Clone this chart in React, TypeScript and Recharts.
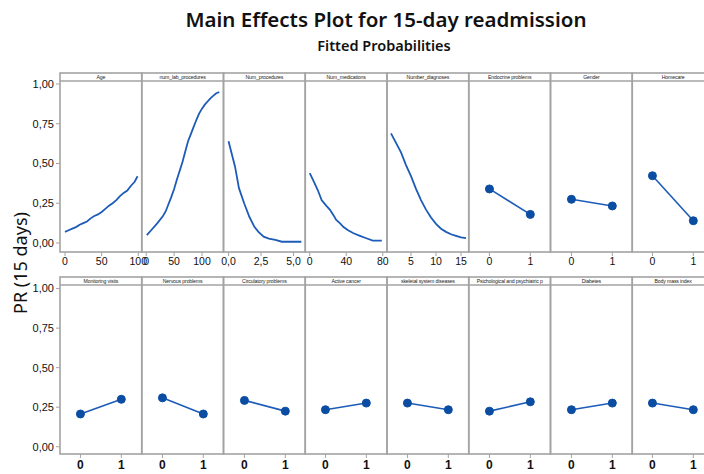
import React from "react";
import { LineChart, Line, XAxis, YAxis } from "recharts";

// continuous predictors
const ageX = [0, 5, 10, 15, 20, 25, 30, 35, 40, 45, 50, 55, 60, 65, 70, 75, 80, 85, 90, 95, 99];
const ageY = [0.07, 0.08, 0.09, 0.1, 0.115, 0.125, 0.135, 0.155, 0.17, 0.18, 0.195, 0.215, 0.235, 0.25, 0.27, 0.295, 0.315, 0.33, 0.36, 0.385, 0.42];

const labX = [1, 10, 20, 30, 35, 40, 45, 50, 55, 60, 65, 70, 75, 80, 85, 90, 95, 100, 105, 110, 115, 120, 125, 131];
const labY = [0.05, 0.085, 0.125, 0.17, 0.2, 0.245, 0.29, 0.34, 0.4, 0.455, 0.51, 0.575, 0.64, 0.685, 0.73, 0.775, 0.815, 0.845, 0.87, 0.89, 0.91, 0.925, 0.94, 0.95];

const procX = [0, 0.5, 0.8, 1.2, 1.6, 2, 2.3, 2.7, 3.1, 3.6, 4.1, 4.6, 5.1, 5.6];
const procY = [0.64, 0.48, 0.345, 0.25, 0.165, 0.1, 0.07, 0.04, 0.028, 0.019, 0.008, 0.008, 0.008, 0.008];

const medX = [0, 5, 9, 13, 18, 22, 26, 29, 33, 37, 42, 48, 55, 62, 69, 74, 79];
const medY = [0.44, 0.38, 0.33, 0.27, 0.235, 0.21, 0.175, 0.145, 0.125, 0.1, 0.08, 0.061, 0.045, 0.03, 0.015, 0.015, 0.015];

const diagX = [1, 2, 3, 4, 5, 6, 7, 8, 9, 10, 11, 12, 13, 14, 15, 16];
const diagY = [0.69, 0.63, 0.57, 0.49, 0.42, 0.34, 0.27, 0.21, 0.16, 0.12, 0.09, 0.07, 0.055, 0.045, 0.035, 0.03];

// binary predictors (levels 0 / 1)
const levels = [0, 1];
const endocrine = [0.34, 0.18];
const gender = [0.275, 0.233];
const homecare = [0.423, 0.14];
const monitoring = [0.207, 0.3];
const nervous = [0.309, 0.207];
const circulatory = [0.293, 0.225];
const cancer = [0.234, 0.276];
const skeletal = [0.276, 0.234];
const psych = [0.225, 0.284];
const diabetes = [0.234, 0.276];
const bmi = [0.276, 0.234];

const yTicks = [0, 0.25, 0.5, 0.75, 1];

const PW = 81.75;
const X0 = 60;
const BLUE = "#1c5cb8";
const DOT = "#0a4da3";
const GRID = "#a3a3a3";
const PAD = 14; // room for tick labels spilling past a panel
const PADT = 8;
const YW = 44;

const rows = [
  { headerTop: 73, plotTop: 81, plotH: 171, yDomain: [-0.0566, 1.0189] },
  { headerTop: 277, plotTop: 285, plotH: 169, yDomain: [-0.046, 1.0227] },
];

const zip = (xs: number[], ys: number[]) => xs.map((x, i) => ({ x, y: ys[i] }));
const comma1 = (v: number) => v.toFixed(1).replace(".", ",");
const plain = (v: number) => String(v);

type Panel = {
  title: string;
  data: { x: number; y: number }[];
  domain: number[];
  ticks: number[];
  fmt: (v: number) => string;
  dots?: boolean;
};

const bin = (title: string, ys: number[]): Panel => ({
  title,
  data: zip(levels, ys),
  domain: [-0.5, 1.5],
  ticks: levels,
  fmt: plain,
  dots: true,
});

const topPanels: Panel[] = [
  { title: "Age", data: zip(ageX, ageY), domain: [-6.8, 104.7], ticks: [0, 50, 100], fmt: plain },
  { title: "num_lab_procedures", data: zip(labX, labY), domain: [-7.6, 139], ticks: [0, 50, 100], fmt: plain },
  { title: "Num_procedures", data: zip(procX, procY), domain: [-0.35, 5.94], ticks: [0, 2.5, 5], fmt: comma1 },
  { title: "Num_medications", data: zip(medX, medY), domain: [-5.2, 84.4], ticks: [0, 40, 80], fmt: plain },
  { title: "Number_diagnoses", data: zip(diagX, diagY), domain: [0.2, 16.55], ticks: [5, 10, 15], fmt: plain },
  bin("Endocrine problems", endocrine),
  bin("Gender", gender),
  bin("Homecare", homecare),
];

const bottomPanels: Panel[] = [
  bin("Monitoring visits", monitoring),
  bin("Nervous problems", nervous),
  bin("Circulatory problems", circulatory),
  bin("Active cancer", cancer),
  bin("skeletal system diseases", skeletal),
  bin("Psichological and psychiatric p", psych),
  bin("Diabetes", diabetes),
  bin("Body mass index", bmi),
];

function PanelChart({ p, idx, row, bold }: { p: Panel; idx: number; row: (typeof rows)[number]; bold: boolean }) {
  const first = idx === 0;
  const left = X0 + idx * PW - PAD - (first ? YW : 0);
  const w = PW + 2 * PAD + (first ? YW : 0);
  return (
    <div style={{ position: "absolute", left, top: row.plotTop - PADT }}>
      <LineChart
        width={w}
        height={row.plotH + 24 + PADT}
        data={p.data}
        margin={{ top: PADT, right: PAD, bottom: 0, left: PAD }}
      >
        <XAxis
          dataKey="x"
          type="number"
          domain={p.domain}
          ticks={p.ticks}
          allowDataOverflow
          axisLine={false}
          tickLine={{ stroke: GRID }}
          tickSize={4}
          height={24}
          tickFormatter={p.fmt}
          tick={{ fontSize: bold ? 12 : 10.5, fill: "#111", fontFamily: "Liberation Sans", fontWeight: bold ? 700 : 400 }}
          interval={0}
        />
        <YAxis
          hide={!first}
          width={YW}
          type="number"
          domain={row.yDomain}
          ticks={yTicks}
          allowDataOverflow
          axisLine={false}
          tickLine={{ stroke: GRID }}
          tickSize={4}
          tickFormatter={(v: number) => v.toFixed(2).replace(".", ",")}
          tick={{ fontSize: 11, fill: "#111", fontFamily: "Liberation Sans" }}
          interval={0}
        />
        <Line
          dataKey="y"
          stroke={BLUE}
          strokeWidth={p.dots ? 1.6 : 1.8}
          dot={p.dots ? { r: 4, fill: DOT, stroke: DOT, strokeWidth: 1 } : false}
          isAnimationActive={false}
          type="linear"
        />
      </LineChart>
    </div>
  );
}

function Frames({ panels, row }: { panels: Panel[]; row: (typeof rows)[number] }) {
  const bottom = row.plotTop + row.plotH;
  return (
    <g>
      {panels.map((p, i) => {
        const x = X0 + i * PW;
        return (
          <g key={p.title}>
            <rect x={x} y={row.headerTop} width={PW} height={bottom - row.headerTop} fill="none" stroke={GRID} strokeWidth={1.6} />
            <line x1={x} x2={x + PW} y1={row.plotTop} y2={row.plotTop} stroke={GRID} strokeWidth={1.6} />
            <text
              x={x + PW / 2}
              y={row.plotTop - 2}
              textAnchor="middle"
              fontSize={5.2}
              fontFamily="Liberation Sans"
              fill="#222"
              letterSpacing={-0.15}
            >
              {p.title}
            </text>
          </g>
        );
      })}
    </g>
  );
}

export default function App() {
  return (
    <div style={{ position: "absolute", left: 0, top: 0, width: 704, height: 474, overflow: "hidden", background: "#fff" }}>
      {topPanels.map((p, i) => (
        <PanelChart key={p.title} p={p} idx={i} row={rows[0]} bold={false} />
      ))}
      {bottomPanels.map((p, i) => (
        <PanelChart key={p.title} p={p} idx={i} row={rows[1]} bold={true} />
      ))}
      <svg width={704} height={474} style={{ position: "absolute", left: 0, top: 0, pointerEvents: "none" }}>
        <text x={386} y={27} textAnchor="middle" fontSize={20.5} fontWeight={600} fontFamily="Noto Sans" fill="#111">
          Main Effects Plot for 15-day readmission
        </text>
        <text x={384} y={51} textAnchor="middle" fontSize={14.5} fontWeight={600} fontFamily="Noto Sans" fill="#111">
          Fitted Probabilities
        </text>
        <text
          transform="translate(27,263) rotate(-90)"
          textAnchor="middle"
          fontSize={18}
          fontFamily="Noto Sans"
          fill="#111"
        >
          PR (15 days)
        </text>
        <Frames panels={topPanels} row={rows[0]} />
        <Frames panels={bottomPanels} row={rows[1]} />
      </svg>
    </div>
  );
}
